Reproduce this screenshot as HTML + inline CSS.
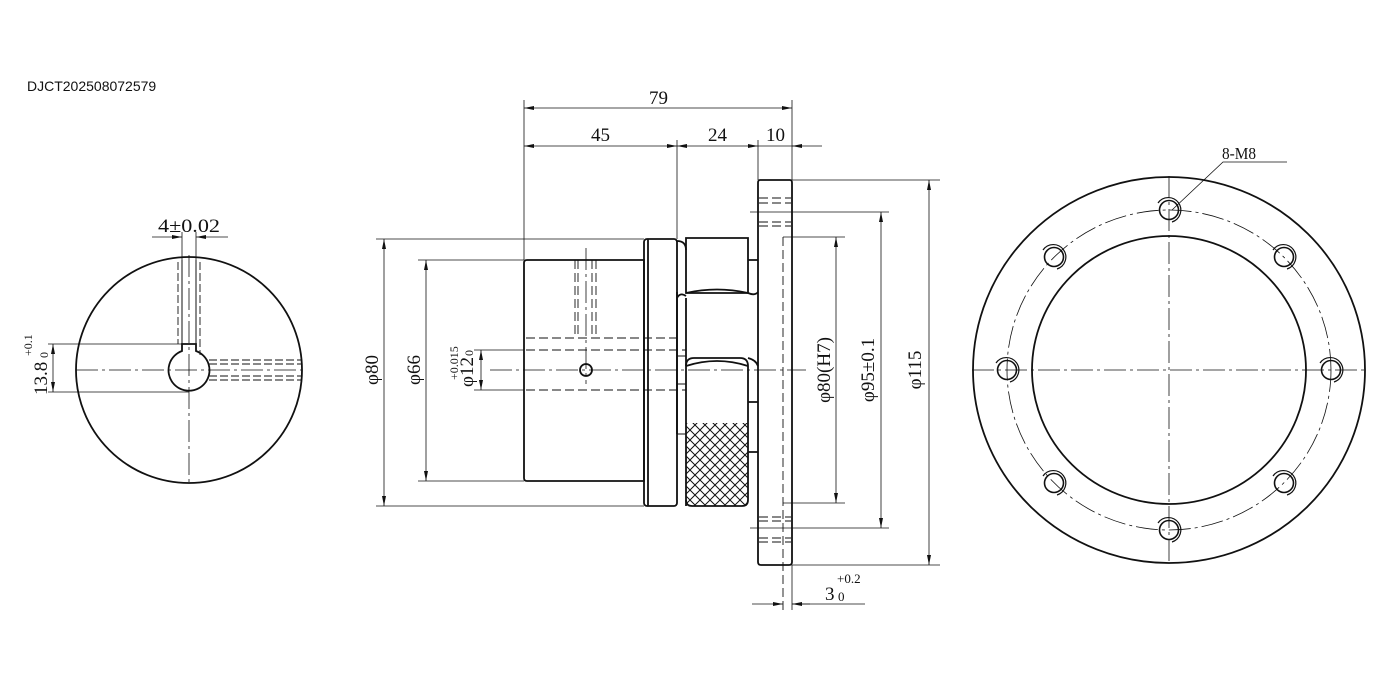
<!DOCTYPE html>
<html><head><meta charset="utf-8"><style>
html,body{margin:0;padding:0;background:#fff;}
svg{display:block;}
text{font-family:"Liberation Serif",serif;fill:#111;}
.t{font-family:"Liberation Sans",sans-serif;}
</style></head><body>
<svg width="1381" height="696" viewBox="0 0 1381 696" xmlns="http://www.w3.org/2000/svg">
<defs>
<marker id="a" viewBox="0 0 10 4" refX="10" refY="2" markerWidth="10" markerHeight="4" orient="auto-start-reverse" markerUnits="userSpaceOnUse"><path d="M0,0 L10,2 L0,4z" fill="#111"/></marker>
<pattern id="k" width="10" height="10" patternUnits="userSpaceOnUse"><path d="M0,0 L10,10 M10,0 L0,10" stroke="#111" stroke-width="1"/></pattern>
</defs>
<text class="t" x="27" y="91" font-size="14">DJCT202508072579</text>

<g fill="none" stroke="#111">
<!-- LEFT VIEW -->
<circle cx="189" cy="370" r="113" stroke-width="1.8"/>
<path d="M182,344 L182,351 A20.5,20.5 0 1 0 196,351 L196,344 Z" stroke-width="1.8" fill="#fff"/>
<line x1="182" y1="260" x2="182" y2="344" stroke-width="1"/>
<line x1="196" y1="260" x2="196" y2="344" stroke-width="1"/>
<g stroke-dasharray="8,3" stroke-width="0.9">
<line x1="178" y1="262" x2="178" y2="344"/><line x1="200" y1="262" x2="200" y2="355"/>
<line x1="209" y1="360" x2="301" y2="360"/><line x1="209" y1="364" x2="302" y2="364"/>
<line x1="209" y1="376" x2="302" y2="376"/><line x1="209" y1="380" x2="301" y2="380"/>
</g>
<g stroke-dasharray="22,4,3,4" stroke-width="0.8">
<line x1="76" y1="370" x2="302" y2="370"/><line x1="189" y1="255" x2="189" y2="482"/>
</g>
<g stroke-width="0.8">
<line x1="182" y1="232" x2="182" y2="260"/><line x1="196" y1="232" x2="196" y2="260"/>
<line x1="152" y1="237" x2="182" y2="237" marker-end="url(#a)"/><line x1="228" y1="237" x2="196" y2="237" marker-end="url(#a)"/>
<line x1="48" y1="344" x2="189" y2="344"/><line x1="48" y1="392" x2="189" y2="392"/>
<line x1="53" y1="370" x2="53" y2="344" marker-end="url(#a)"/><line x1="53" y1="370" x2="53" y2="392" marker-end="url(#a)"/>
</g>

<!-- MIDDLE VIEW -->
<g stroke-width="1.8">
<path d="M527,260 L644,260 L644,481 L527,481 Q524,481 524,478 L524,263 Q524,260 527,260Z"/>
<rect x="644" y="239" width="33" height="267" rx="3"/>
<line x1="648" y1="239" x2="648" y2="506"/>
<path d="M677,241 Q686,241 686,250"/>
<path d="M686,238 L748,238 L748,293 L686,293 Z"/>
<path d="M686,293 Q717,286 748,293"/>
<path d="M748,260 L758,260 M748,293 Q755,296 758,292"/>
<path d="M677,292 L677,434 M686,298 L686,506 M677,298 Q680,292 686,296"/>
<path d="M686,366 Q686,358 694,358 L740,358 Q748,358 748,366 L748,500 Q748,506 742,506 L692,506 Q686,506 686,500"/>
<path d="M686,366 Q717,356 748,366"/>
<path d="M748,358 Q756,360 758,366 M748,402 L758,402 M748,452 L758,452"/>
<path d="M760,180 L790,180 Q792,180 792,183 L792,562 Q792,565 789,565 L761,565 Q758,565 758,562 L758,183 Q758,180 760,180Z"/>
</g>
<rect x="686" y="423" width="62" height="83" fill="url(#k)" stroke="none"/>
<g stroke-width="1">
<line x1="677" y1="356" x2="686" y2="356"/><line x1="677" y1="384" x2="686" y2="384"/><line x1="677" y1="434" x2="686" y2="434"/>
<circle cx="586" cy="370" r="6" stroke-width="1.8"/>
</g>
<g stroke-dasharray="9,4" stroke-width="0.9">
<line x1="526" y1="338" x2="677" y2="338"/><line x1="526" y1="350" x2="686" y2="350"/><line x1="526" y1="390" x2="686" y2="390"/>
<line x1="575" y1="260" x2="575" y2="338"/><line x1="578" y1="260" x2="578" y2="338"/>
<line x1="592" y1="260" x2="592" y2="338"/><line x1="596" y1="260" x2="596" y2="338"/>
<line x1="783" y1="237" x2="783" y2="610"/>
<line x1="759" y1="198" x2="791" y2="198"/><line x1="759" y1="203" x2="791" y2="203"/>
<line x1="759" y1="222" x2="791" y2="222"/><line x1="759" y1="226" x2="791" y2="226"/>
<line x1="759" y1="517" x2="791" y2="517"/><line x1="759" y1="521" x2="791" y2="521"/>
<line x1="759" y1="538" x2="791" y2="538"/><line x1="759" y1="542" x2="791" y2="542"/>
</g>
<g stroke-dasharray="22,4,3,4" stroke-width="0.8">
<line x1="490" y1="370" x2="806" y2="370"/><line x1="586" y1="248" x2="586" y2="384"/>
</g>
<!-- dims -->
<g stroke-width="0.8">
<line x1="524" y1="100" x2="524" y2="260"/><line x1="677" y1="140" x2="677" y2="239"/>
<line x1="758" y1="140" x2="758" y2="180"/><line x1="792" y1="100" x2="792" y2="180"/>
<line x1="524" y1="108" x2="792" y2="108" marker-start="url(#a)" marker-end="url(#a)"/>
<line x1="524" y1="146" x2="677" y2="146" marker-start="url(#a)" marker-end="url(#a)"/>
<line x1="677" y1="146" x2="758" y2="146" marker-start="url(#a)" marker-end="url(#a)"/>
<line x1="758" y1="146" x2="822" y2="146"/><line x1="802" y1="146" x2="792" y2="146" marker-end="url(#a)"/>
<line x1="376" y1="239" x2="644" y2="239"/><line x1="376" y1="506" x2="644" y2="506"/>
<line x1="384" y1="239" x2="384" y2="506" marker-start="url(#a)" marker-end="url(#a)"/>
<line x1="418" y1="260" x2="524" y2="260"/><line x1="418" y1="481" x2="524" y2="481"/>
<line x1="426" y1="260" x2="426" y2="481" marker-start="url(#a)" marker-end="url(#a)"/>
<line x1="474" y1="350" x2="524" y2="350"/><line x1="474" y1="390" x2="524" y2="390"/>
<line x1="481" y1="370" x2="481" y2="350" marker-end="url(#a)"/><line x1="481" y1="370" x2="481" y2="390" marker-end="url(#a)"/>
<line x1="783" y1="237" x2="845" y2="237"/><line x1="783" y1="503" x2="845" y2="503"/>
<line x1="836" y1="237" x2="836" y2="503" marker-start="url(#a)" marker-end="url(#a)"/>
<line x1="750" y1="212" x2="889" y2="212"/><line x1="750" y1="528" x2="889" y2="528"/>
<line x1="881" y1="212" x2="881" y2="528" marker-start="url(#a)" marker-end="url(#a)"/>
<line x1="792" y1="180" x2="940" y2="180"/><line x1="792" y1="565" x2="940" y2="565"/>
<line x1="929" y1="180" x2="929" y2="565" marker-start="url(#a)" marker-end="url(#a)"/>
<line x1="792" y1="565" x2="792" y2="610"/>
<line x1="752" y1="604" x2="783" y2="604" marker-end="url(#a)"/>
<line x1="865" y1="604" x2="792" y2="604"/><line x1="810" y1="604" x2="792" y2="604" marker-end="url(#a)"/>
</g>

<!-- RIGHT VIEW -->
<ellipse cx="1169" cy="370" rx="196" ry="193" stroke-width="1.8"/>
<ellipse cx="1169" cy="370" rx="137" ry="134" stroke-width="1.8"/>
<ellipse cx="1169" cy="370" rx="162" ry="160" stroke-width="0.8" stroke-dasharray="22,4,3,4"/>
<g stroke-dasharray="22,4,3,4" stroke-width="0.8">
<line x1="972" y1="370" x2="1367" y2="370"/><line x1="1169" y1="176" x2="1169" y2="565"/>
</g>
<g stroke-width="1.6">
<circle cx="1169" cy="210" r="9.5"/><circle cx="1169" cy="530" r="9.5"/>
<circle cx="1007" cy="370" r="9.5"/><circle cx="1331" cy="370" r="9.5"/>
<circle cx="1054" cy="257" r="9.5"/><circle cx="1284" cy="257" r="9.5"/>
<circle cx="1054" cy="483" r="9.5"/><circle cx="1284" cy="483" r="9.5"/>
</g>
<g stroke-width="1.2">
<path d="M1158,203 A12.5,12.5 0 1 1 1172,222"/><path d="M1158,523 A12.5,12.5 0 1 1 1172,542"/>
<path d="M996,363 A12.5,12.5 0 1 1 1010,382"/><path d="M1320,363 A12.5,12.5 0 1 1 1334,382"/>
<path d="M1043,250 A12.5,12.5 0 1 1 1057,269"/><path d="M1273,250 A12.5,12.5 0 1 1 1287,269"/>
<path d="M1043,476 A12.5,12.5 0 1 1 1057,495"/><path d="M1273,476 A12.5,12.5 0 1 1 1287,495"/>
</g>
<polyline points="1172,210 1223,162 1287,162" stroke-width="0.8"/>
</g>

<!-- TEXT -->
<g font-size="19">
<text x="158" y="232" textLength="62" lengthAdjust="spacingAndGlyphs">4±0.02</text>
<text x="649" y="104">79</text>
<text x="591" y="141">45</text>
<text x="708" y="141">24</text>
<text x="766" y="141">10</text>
<text x="1222" y="159" font-size="17" textLength="34" lengthAdjust="spacingAndGlyphs">8-M8</text>
<text x="825" y="600">3</text>
<text x="837" y="583" font-size="13">+0.2</text>
<text x="838" y="601" font-size="13">0</text>
<text transform="translate(378,370) rotate(-90)" text-anchor="middle">φ80</text>
<text transform="translate(420,370) rotate(-90)" text-anchor="middle">φ66</text>
<text transform="translate(473,387) rotate(-90)">φ12</text>
<text transform="translate(458,380) rotate(-90)" font-size="12">+0.015</text>
<text transform="translate(473,356) rotate(-90)" font-size="12">0</text>
<text transform="translate(830,370) rotate(-90)" text-anchor="middle">φ80(H7)</text>
<text transform="translate(874,370) rotate(-90)" text-anchor="middle">φ95±0.1</text>
<text transform="translate(921,370) rotate(-90)" text-anchor="middle">φ115</text>
<text transform="translate(47,395) rotate(-90)">13.8</text>
<text transform="translate(32,356) rotate(-90)" font-size="12">+0.1</text>
<text transform="translate(48,358) rotate(-90)" font-size="12">0</text>
</g>
</svg>
</body></html>
